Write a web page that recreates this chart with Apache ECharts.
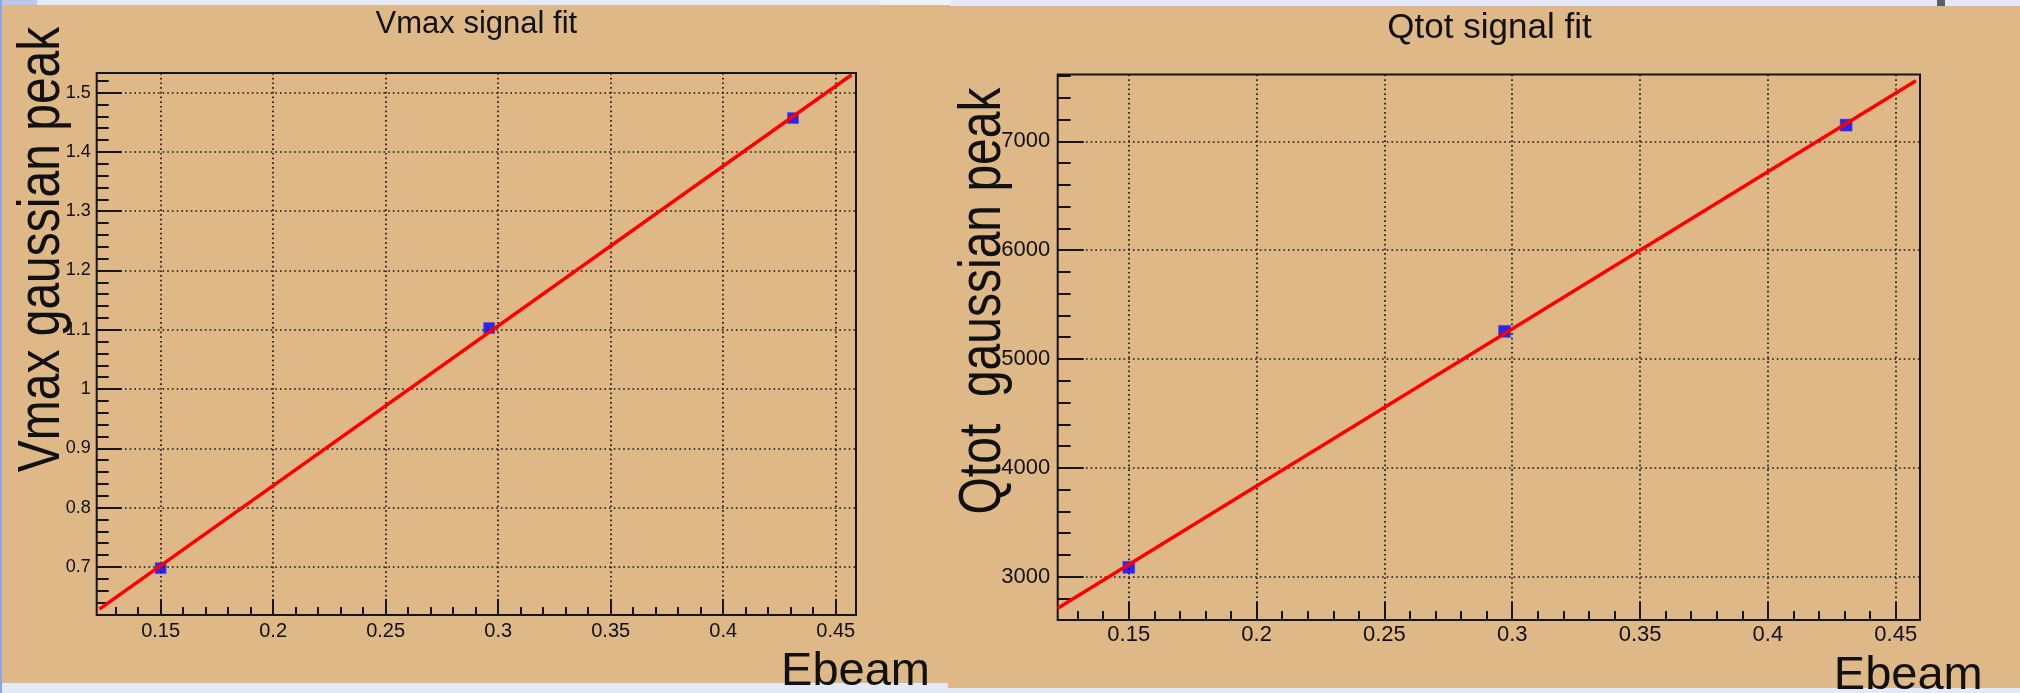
<!DOCTYPE html>
<html><head><meta charset="utf-8">
<script src="https://cdn.jsdelivr.net/npm/echarts@6.0.0/dist/echarts.min.js"></script>
<style>html,body{margin:0;padding:0;background:#e4e9f7}#c{width:2020px;height:693px}</style>
</head><body><div id="c"></div>
<script>
// ---- data ----
const vmaxEbeam = [0.150, 0.296, 0.431];
const vmaxPeak = [0.698, 1.103, 1.457];
const vmaxFitEbeam = [0.1228, 0.4571];
const vmaxFitPeak = [0.629, 1.530];

const qtotEbeam = [0.150, 0.297, 0.4306];
const qtotPeak = [3086, 5254, 7149];
const qtotFitEbeam = [0.1222, 0.4579];
const qtotFitPeak = [2710, 7557];

const plotTitles = ['Vmax signal fit', 'Qtot signal fit'];
const yTitles = ['Vmax gaussian peak', 'Qtot  gaussian peak'];
const xTitle = 'Ebeam';

// tick labels
const ebeamTicks = [0.15, 0.2, 0.25, 0.3, 0.35, 0.4, 0.45];
const vmaxTicks = [0.7, 0.8, 0.9, 1.0, 1.1, 1.2, 1.3, 1.4, 1.5];
const qtotTicks = [3000, 4000, 5000, 6000, 7000];

// axis ranges
const vmaxXRange = [0.1216, 0.459];
const vmaxYRange = [0.619, 1.533];
const qtotXRange = [0.1222, 0.4595];
const qtotYRange = [2602, 7614];

// ---- styling ----
const FONT = '"Liberation Sans", Arial, Helvetica, sans-serif';
const INK = '#151515';
const TAN = '#deb887';
const dotted = {color: '#1c1c1c', width: 1.7, type: [1.7, 3]};

function pairs(xs, ys) { return xs.map((x, i) => [x, ys[i]]); }
function steps(range, step) {
  const out = [];
  for (let k = Math.ceil(range[0] / step - 1e-9); k * step <= range[1] + 1e-9; k++) out.push(+(k * step).toFixed(6));
  return out;
}

function axisPair(dim, gi, range, majorVals, minorStep, fs, margin, majLen, minLen, fmt) {
  const pos = dim === 'x' ? 'bottom' : 'left';
  return [
    {
      gridIndex: gi, type: 'value', position: pos, min: range[0], max: range[1],
      axisLine: {show: false},
      axisTick: {show: true, inside: true, length: majLen, customValues: majorVals, lineStyle: {color: INK, width: 2}},
      axisLabel: {show: true, fontSize: fs, margin: margin, color: '#111', fontFamily: FONT,
        customValues: majorVals, formatter: fmt},
      splitLine: {show: true, lineStyle: dotted}
    },
    {
      gridIndex: gi, type: 'value', position: pos, min: range[0], max: range[1],
      axisLine: {show: false},
      axisTick: {show: true, inside: true, length: minLen, customValues: steps(range, minorStep), lineStyle: {color: INK, width: 2}},
      axisLabel: {show: false},
      splitLine: {show: false}
    }
  ];
}

const fmtX = v => String(Math.round(v * 100) / 100);
const fmtV = v => String(Math.round(v * 10) / 10);
const fmtQ = v => String(Math.round(v));

const chart = echarts.init(document.getElementById('c'), null, {renderer: 'canvas'});

function txt(text, x, y, size, align, rot, sy) {
  return {
    type: 'text', z: 100, x: x, y: y, rotation: rot || 0, scaleY: sy || 1,
    style: {text: text, x: 0, y: 0, font: size + 'px ' + FONT, fill: '#111',
      align: align, verticalAlign: 'middle', textAlign: align, textVerticalAlign: 'middle'}
  };
}

const option = {
  backgroundColor: '#e4e9f7',
  animation: false,
  grid: [
    {left: 96.7, top: 73, width: 759.3, height: 542, show: true, borderColor: INK, borderWidth: 2, backgroundColor: 'transparent', containLabel: false},
    {left: 1057.7, top: 74.5, width: 862.3, height: 545.5, show: true, borderColor: INK, borderWidth: 2, backgroundColor: 'transparent', containLabel: false}
  ],
  xAxis: [
    ...axisPair('x', 0, vmaxXRange, ebeamTicks, 0.01, 20, 6, 16, 8, fmtX),
    ...axisPair('x', 1, qtotXRange, ebeamTicks, 0.01, 22, 4, 18, 9, fmtX)
  ],
  yAxis: [
    ...axisPair('y', 0, vmaxYRange, vmaxTicks, 0.02, 18, 6, 25, 12, fmtV),
    ...axisPair('y', 1, qtotYRange, qtotTicks, 200, 22, 7.5, 26, 13, fmtQ)
  ],
  graphic: {elements: [
    {type: 'rect', z: -100, shape: {x: 0, y: 0, width: 37, height: 6}, style: {fill: '#bcc7ee'}},
    {type: 'rect', z: -100, shape: {x: 880, y: 0, width: 71, height: 6}, style: {fill: '#eff2fb'}},
    {type: 'rect', z: -100, shape: {x: 0, y: 0, width: 2, height: 693}, style: {fill: '#90a3e2'}},
    {type: 'rect', z: -99, shape: {x: 948, y: 6, width: 1072, height: 682}, style: {fill: TAN}},
    {type: 'rect', z: -98, shape: {x: 2, y: 5, width: 948, height: 678}, style: {fill: TAN}},
    {type: 'rect', z: -97, shape: {x: 1937, y: 0, width: 8, height: 6}, style: {fill: '#5a5e6a'}},
    txt(plotTitles[0], 476.4, 24.5, 31, 'center'),
    txt(plotTitles[1], 1489.5, 28, 35, 'center'),
    txt(yTitles[0], 42, 249.5, 48, 'center', Math.PI / 2, 1.25),
    txt(yTitles[1], 983, 301, 48, 'center', Math.PI / 2, 1.25),
    txt(xTitle, 930, 672, 47, 'right'),
    txt(xTitle, 1982.7, 676, 47, 'right')
  ]},
  series: [
    {type: 'scatter', xAxisIndex: 0, yAxisIndex: 0, data: pairs(vmaxEbeam, vmaxPeak), symbol: 'rect', symbolSize: 11,
      itemStyle: {color: '#0000ff', borderColor: '#3a4cf0', borderWidth: 0.6}, z: 3, silent: true},
    {type: 'line', xAxisIndex: 0, yAxisIndex: 0, data: pairs(vmaxFitEbeam, vmaxFitPeak), symbol: 'none', showSymbol: false,
      lineStyle: {color: '#ff0000', width: 3.5}, z: 5, silent: true},
    {type: 'scatter', xAxisIndex: 2, yAxisIndex: 2, data: pairs(qtotEbeam, qtotPeak), symbol: 'rect', symbolSize: 12,
      itemStyle: {color: '#0000ff', borderColor: '#3a4cf0', borderWidth: 0.6}, z: 3, silent: true},
    {type: 'line', xAxisIndex: 2, yAxisIndex: 2, data: pairs(qtotFitEbeam, qtotFitPeak), symbol: 'none', showSymbol: false,
      lineStyle: {color: '#ff0000', width: 3.5}, z: 5, silent: true}
  ]
};
chart.setOption(option);
</script>
</body></html>
